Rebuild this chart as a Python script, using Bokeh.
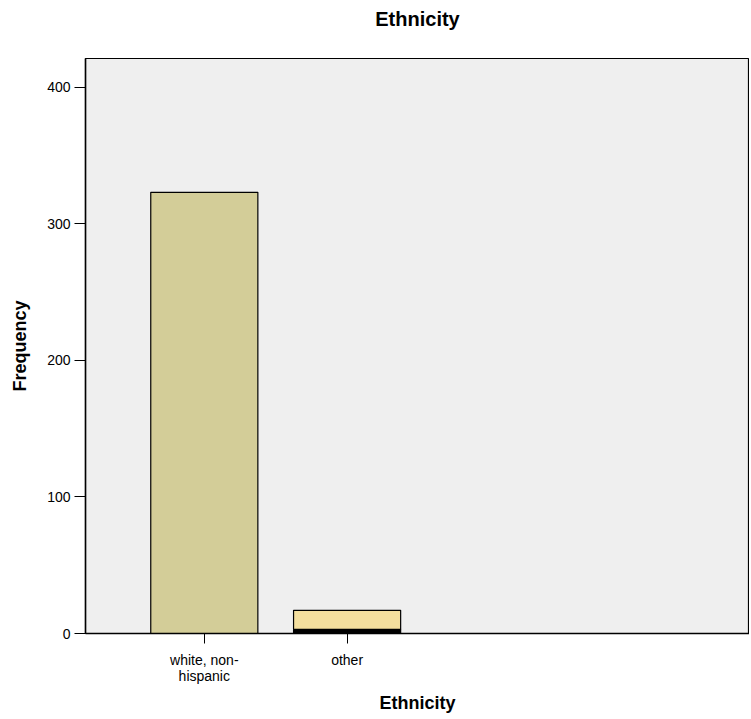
from bokeh.plotting import figure
from bokeh.models import FixedTicker, Range1d, ColumnDataSource, Title
from bokeh.embed import file_html
from bokeh.resources import INLINE

categories = ["white, non-\nhispanic", "other"]
positions = [1, 2]
base_counts = [0, 3]       # dark bottom segment
main_counts = [323, 14]    # coloured segment
bar_colors = ["#D3CD98", "#F4DF9E"]
y_ticks = [0, 100, 200, 300, 400]
title_text = "Ethnicity"

bottoms = base_counts
tops = [b + m for b, m in zip(base_counts, main_counts)]

p = figure(width=749, height=719, output_backend="svg", toolbar_location=None,
           x_range=Range1d(0.168, 4.818), y_range=Range1d(0, 421),
           min_border_left=85, min_border_right=0,
           min_border_top=58, min_border_bottom=86)

src_base = ColumnDataSource(dict(x=positions, top=base_counts))
src_main = ColumnDataSource(dict(x=positions, bottom=bottoms, top=tops, color=bar_colors))
p.vbar(x="x", top="top", bottom=0, width=0.75, source=src_base,
       fill_color="black", line_color="black", line_width=1.2)
p.vbar(x="x", top="top", bottom="bottom", width=0.75, source=src_main,
       fill_color="color", line_color="black", line_width=1.2)

p.background_fill_color = "#EFEFEF"
p.border_fill_color = "white"
p.outline_line_color = "black"
p.outline_line_width = 1.2
p.grid.visible = False

# spacer panel between frame and title
p.add_layout(Title(text=" ", text_font_size="12px", standoff=8), "above")
p.add_layout(Title(text=title_text, align="center", text_font="Liberation Sans",
                   text_font_size="20px", text_font_style="bold",
                   text_color="black", offset=-12), "above")

p.xaxis.ticker = FixedTicker(ticks=positions)
p.xaxis.major_label_overrides = {pos: lab for pos, lab in zip(positions, categories)}
p.xaxis.major_label_text_font = "Liberation Sans"
p.xaxis.major_label_text_font_size = "14px"
p.xaxis.major_label_text_color = "black"
p.xaxis.major_label_text_line_height = 1.0
p.xaxis.major_label_standoff = 8
p.xaxis.major_tick_out = 10
p.xaxis.major_tick_in = 0
p.xaxis.minor_tick_line_color = None
p.xaxis.axis_line_width = 1.5
p.xaxis.axis_label = "Ethnicity"
p.xaxis.axis_label_text_font = "Liberation Sans"
p.xaxis.axis_label_text_font_size = "18px"
p.xaxis.axis_label_text_font_style = "bold"
p.xaxis.axis_label_text_color = "black"
p.xaxis.axis_label_standoff = 6

p.yaxis.ticker = FixedTicker(ticks=y_ticks)
p.yaxis.major_label_text_font = "Liberation Sans"
p.yaxis.major_label_text_font_size = "14px"
p.yaxis.major_label_text_color = "black"
p.yaxis.major_label_standoff = 4
p.yaxis.major_tick_out = 11
p.yaxis.major_tick_in = 0
p.yaxis.minor_tick_line_color = None
p.yaxis.axis_line_width = 1.5
p.yaxis.axis_label = "Frequency"
p.yaxis.axis_label_text_font = "Liberation Sans"
p.yaxis.axis_label_text_font_size = "18px"
p.yaxis.axis_label_text_font_style = "bold"
p.yaxis.axis_label_text_color = "black"
p.yaxis.axis_label_standoff = 14

open("out.html", "w").write(file_html(p, INLINE))
